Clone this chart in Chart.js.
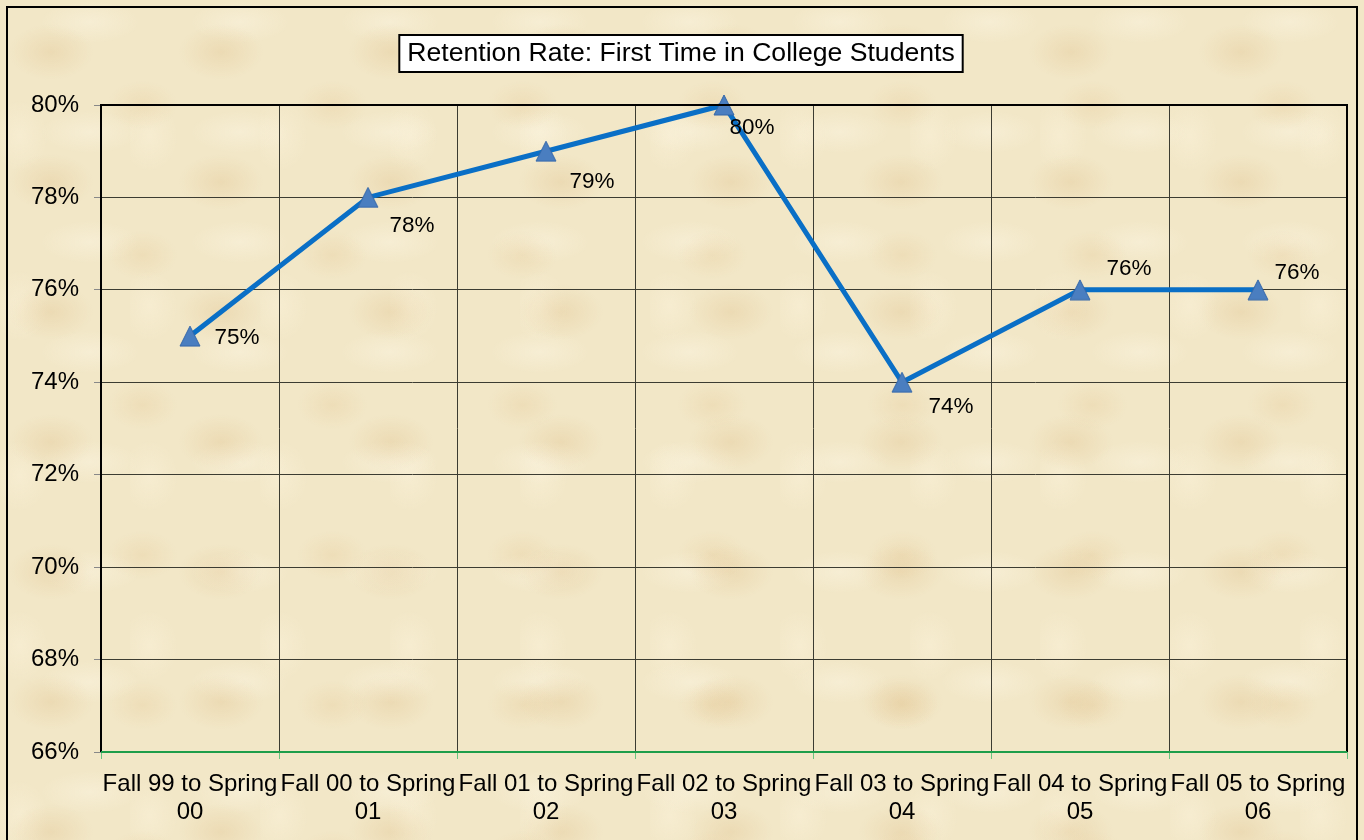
<!DOCTYPE html>
<html>
<head>
<meta charset="utf-8">
<script src="https://cdn.jsdelivr.net/npm/chart.js@4"></script>
<style>
  html, body { margin: 0; padding: 0; }
  body {
    width: 1364px; height: 840px; overflow: hidden; position: relative;
    background-color: #F2E7C7;
    background-image:
      radial-gradient(ellipse 60px 40px at 30% 40%, rgba(220,186,130,0.28), rgba(220,186,130,0) 70%),
      radial-gradient(ellipse 50px 35px at 75% 70%, rgba(228,198,146,0.28), rgba(228,198,146,0) 70%),
      radial-gradient(ellipse 70px 30px at 60% 20%, rgba(250,243,222,0.55), rgba(250,243,222,0) 70%),
      radial-gradient(ellipse 40px 50px at 15% 80%, rgba(250,241,216,0.55), rgba(250,241,216,0) 70%);
    background-size: 170px 130px, 190px 150px, 150px 110px, 130px 170px;
  }
  #frame {
    position: absolute; left: 6px; top: 6px; width: 1352px; height: 840px;
    border: 2px solid #000; box-sizing: border-box;
  }
  canvas { position: absolute; left: 0; top: 0; }
</style>
</head>
<body>
<div id="frame"></div>
<canvas id="retChart" width="1364" height="840"></canvas>
<script>
const categories = [
  ['Fall 99 to Spring', '00'],
  ['Fall 00 to Spring', '01'],
  ['Fall 01 to Spring', '02'],
  ['Fall 02 to Spring', '03'],
  ['Fall 03 to Spring', '04'],
  ['Fall 04 to Spring', '05'],
  ['Fall 05 to Spring', '06']
];
const retentionRates = [75, 78, 79, 80, 74, 76, 76];
const yTicks = { min: 66, max: 80, step: 2 };
const chartTitle = 'Retention Rate: First Time in College Students';

// label offsets from each point (style, not data)
const labelOffsets = [[47, 2], [44, 28], [46, 31], [28, 23], [49, 25], [49, -21], [39, -17]];

const FONT = '"Liberation Sans", Arial, sans-serif';

// triangle marker, centred on the point like the Excel one
function makeTriangle() {
  const c = document.createElement('canvas');
  c.width = 22; c.height = 22;
  const g = c.getContext('2d');
  g.beginPath();
  g.moveTo(11, 1);
  g.lineTo(21, 21);
  g.lineTo(1, 21);
  g.closePath();
  g.fillStyle = '#4A7EC0';
  g.fill();
  g.strokeStyle = '#3567A8';
  g.lineWidth = 1;
  g.stroke();
  return c;
}
const triangle = makeTriangle();

const frameAndTitle = {
  id: 'frameAndTitle',
  afterDraw(chart) {
    const ctx = chart.ctx;
    const a = chart.chartArea;
    ctx.save();
    // plot border
    ctx.strokeStyle = '#000';
    ctx.lineWidth = 2;
    ctx.beginPath();
    ctx.moveTo(a.left, a.bottom);
    ctx.lineTo(a.left, a.top);
    ctx.lineTo(a.right, a.top);
    ctx.lineTo(a.right, a.bottom);
    ctx.stroke();
    // green category axis
    ctx.strokeStyle = '#1E9E4A';
    ctx.beginPath();
    ctx.moveTo(a.left, a.bottom);
    ctx.lineTo(a.right, a.bottom);
    ctx.stroke();

    // title box
    ctx.font = '26.6px ' + FONT;
    const w = ctx.measureText(chartTitle).width;
    const cx = 681, cy = 53;
    ctx.fillStyle = '#fff';
    ctx.fillRect(cx - w / 2 - 8, 35, w + 16, 37);
    ctx.strokeStyle = '#000';
    ctx.lineWidth = 2;
    ctx.strokeRect(cx - w / 2 - 8, 35, w + 16, 37);
    ctx.fillStyle = '#000';
    ctx.textAlign = 'center';
    ctx.textBaseline = 'middle';
    ctx.fillText(chartTitle, cx, cy + 1);
    ctx.restore();
  },
  afterDatasetsDraw(chart) {
    const ctx = chart.ctx;
    const meta = chart.getDatasetMeta(0);
    ctx.save();
    ctx.font = '22.5px ' + FONT;
    ctx.fillStyle = '#000';
    ctx.textAlign = 'center';
    ctx.textBaseline = 'middle';
    meta.data.forEach((pt, i) => {
      const off = labelOffsets[i];
      ctx.fillText(retentionRates[i] + '%', pt.x + off[0], pt.y + off[1]);
    });
    ctx.restore();
  }
};

new Chart(document.getElementById('retChart'), {
  type: 'line',
  data: {
    labels: categories,
    datasets: [{
      data: retentionRates,
      borderColor: '#0A6FC6',
      borderWidth: 5,
      pointStyle: triangle,
      pointRadius: 11,
      pointHoverRadius: 11,
      tension: 0,
      clip: false
    }]
  },
  options: {
    responsive: false,
    animation: false,
    events: [],
    layout: { padding: { top: 105, right: 17, left: 0, bottom: 0 } },
    plugins: { legend: { display: false }, title: { display: false }, tooltip: { enabled: false } },
    scales: {
      x: {
        offset: true,
        grid: { offset: true, color: '#3C3C32', lineWidth: 1, tickLength: 7, tickColor: '#6BC47F', drawOnChartArea: true },
        border: { display: false },
        ticks: { color: '#000', font: { family: FONT, size: 24, lineHeight: 1.17 }, padding: 11, maxRotation: 0, autoSkip: false },
        afterFit(scale) { scale.height = 88; }
      },
      y: {
        min: yTicks.min,
        max: yTicks.max,
        grid: { color: '#3C3C32', lineWidth: 1, tickLength: 7, tickColor: '#888' },
        border: { display: false },
        ticks: {
          stepSize: yTicks.step,
          color: '#000',
          font: { family: FONT, size: 24 },
          padding: 15,
          callback: v => v + '%'
        },
        afterFit(scale) { scale.width = 101; }
      }
    }
  },
  plugins: [frameAndTitle]
});
</script>
</body>
</html>
